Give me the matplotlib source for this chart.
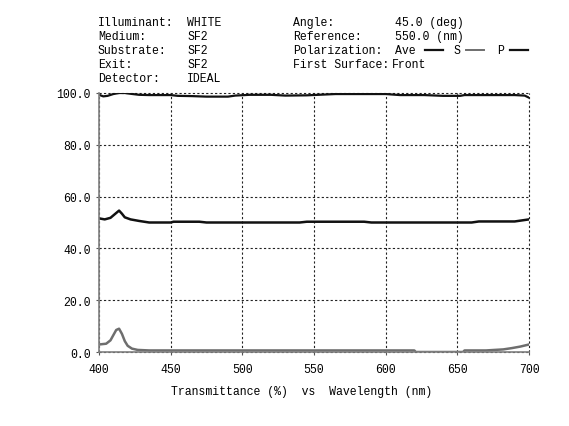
import matplotlib
matplotlib.use('Agg')
import matplotlib.pyplot as plt
from matplotlib.lines import Line2D

# Data (wavelength in nm, transmittance in %)
WL_P = [400, 403, 406, 410, 414, 418, 422, 428, 435, 450, 455, 465, 475, 490, 495,
        505, 520, 530, 545, 565, 580, 600, 610, 627, 640, 652, 655, 670, 690, 697, 700]
T_P = [99.3, 98.7, 98.9, 99.6, 100.0, 100.0, 99.7, 99.3, 99.2, 99.2, 98.9, 98.8, 98.6, 98.6, 99.0,
       99.3, 99.3, 99.0, 99.1, 99.6, 99.6, 99.6, 99.2, 99.2, 98.9, 98.9, 99.2, 99.2, 99.2, 99.0, 98.2]

WL_AVE = [400, 404, 408, 411, 414, 416, 418, 422, 428, 435, 450, 452, 470, 475, 540,
          545, 585, 590, 660, 665, 690, 695, 700]
T_AVE = [51.6, 51.2, 51.8, 53.2, 54.6, 53.4, 52.0, 51.2, 50.6, 50.0, 50.0, 50.3, 50.3, 50.0, 50.0,
         50.3, 50.3, 50.0, 50.0, 50.4, 50.4, 50.8, 51.2]

WL_S = [400, 405, 408, 410, 412, 414, 416, 418, 420, 423, 427, 435, 500, 620, 621,
        654, 655, 670, 682, 688, 694, 700]
T_S = [2.9, 3.2, 4.5, 6.5, 8.5, 9.0, 7.0, 4.2, 2.4, 1.3, 0.8, 0.6, 0.6, 0.6, 0.0,
       0.0, 0.6, 0.6, 1.0, 1.5, 2.1, 2.9]

X_TICKS = [400, 450, 500, 550, 600, 650, 700]
Y_TICKS = [0, 20, 40, 60, 80, 100]

HEADER_LEFT = [("Illuminant:", "WHITE"), ("Medium:", "SF2"), ("Substrate:", "SF2"),
               ("Exit:", "SF2"), ("Detector:", "IDEAL")]
HEADER_RIGHT = [("Angle:", "45.0 (deg)"), ("Reference:", "550.0 (nm)"),
                ("Polarization:", "Ave"), ("First Surface:", "Front")]

MONO = 'Liberation Mono'
FS = 8.3

W, H = 569, 427
fig = plt.figure(figsize=(W / 100, H / 100), dpi=100)
ax = fig.add_axes([99 / W, 1 - 353 / H, 430 / W, 259 / H])

ax.plot(WL_P, T_P, color='#111111', lw=1.6, zorder=3)
ax.plot(WL_AVE, T_AVE, color='#111111', lw=1.8, zorder=3)
ax.plot(WL_S, T_S, color='#6e6e6e', lw=1.8, zorder=3)

ax.set_xlim(400, 700)
ax.set_ylim(0, 100)
ax.set_xticks(X_TICKS)
ax.set_xticklabels([str(v) for v in X_TICKS], fontfamily=MONO, fontsize=FS)
ax.set_yticks(Y_TICKS)
ax.set_yticklabels(['%.1f' % v for v in Y_TICKS], fontfamily=MONO, fontsize=FS)
ax.tick_params(length=2, width=0.8, color='#555555')
ax.tick_params(axis='x', pad=6)
ax.tick_params(axis='y', pad=4)
ax.grid(True, color='#222222', ls=(0, (2, 2)), lw=0.8)
for gl in ax.get_xgridlines() + ax.get_ygridlines():
    gl.set_clip_on(False)

for side in ['top', 'right']:
    ax.spines[side].set_visible(False)
for side in ['left', 'bottom']:
    ax.spines[side].set_color('#808080')
    ax.spines[side].set_linewidth(1.2)
    ax.spines[side].set_zorder(4)

# header block
for i, (k, v) in enumerate(HEADER_LEFT):
    y = 1 - (23 + i * 14) / H
    fig.text(98 / W, y, k, fontfamily=MONO, fontsize=FS, va='center')
    fig.text(187 / W, y, v, fontfamily=MONO, fontsize=FS, va='center')
for i, (k, v) in enumerate(HEADER_RIGHT):
    y = 1 - (23 + i * 14) / H
    fig.text(293 / W, y, k, fontfamily=MONO, fontsize=FS, va='center')
    xv = 392 if i == 3 else 395
    fig.text(xv / W, y, v, fontfamily=MONO, fontsize=FS, va='center')

# polarization legend
ly = 1 - 51 / H
fig.add_artist(Line2D([425 / W, 443 / W], [ly, ly], color='#111111', lw=1.6))
fig.text(453 / W, ly, "S", fontfamily=MONO, fontsize=FS, va='center')
fig.add_artist(Line2D([466 / W, 484 / W], [ly, ly], color='#6e6e6e', lw=1.4))
fig.text(497 / W, ly, "P", fontfamily=MONO, fontsize=FS, va='center')
fig.add_artist(Line2D([510 / W, 528 / W], [ly, ly], color='#111111', lw=1.6))

fig.text(302 / W, 1 - 392 / H, "Transmittance (%)  vs  Wavelength (nm)",
         fontfamily=MONO, fontsize=FS, ha='center', va='center')

plt.savefig('out.png', dpi=100)
